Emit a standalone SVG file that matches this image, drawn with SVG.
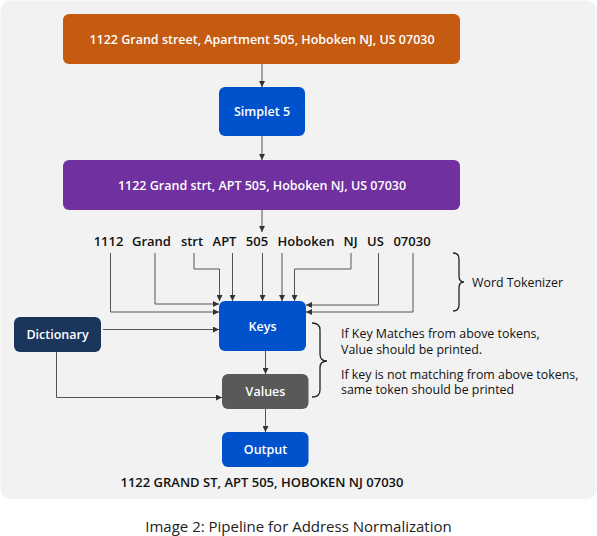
<svg xmlns="http://www.w3.org/2000/svg" width="597" height="536" viewBox="0 0 597 536">
<defs>
<marker id="ah" viewBox="0 0 6 6" refX="6" refY="3" markerWidth="6" markerHeight="6" markerUnits="userSpaceOnUse" orient="auto">
<path d="M0,0 L6,3 L0,6 z" fill="#333"/>
</marker>
<style>
.box text, .lbl { font-family: "Open Sans", "Liberation Sans", sans-serif; }
.box text { fill: #ffffff; font-size: 12.5px; font-weight: 600; text-anchor: middle; dominant-baseline: central; }
.conn path { fill: none; stroke: #555; stroke-width: 1; marker-end: url(#ah); }
.brace { fill: none; stroke: #222; stroke-width: 1.3; }
.tok { font-size: 13px; font-weight: 600; fill: #111; text-anchor: middle; }
.note { font-size: 12.4px; fill: #111; }
</style>
</defs>
<rect x="0" y="0" width="597" height="536" fill="#ffffff"/>
<rect x="0.5" y="0.5" width="596" height="498.5" rx="10" fill="#f2f2f2"/>

<g class="conn">
<path d="M262,64 V87"/>
<path d="M262,136 V160"/>
<path d="M262,210 V232"/>
<path d="M110.5,253 V312 H219"/>
<path d="M155,253 V304 H219"/>
<path d="M194,253 V269 H219.5 V301"/>
<path d="M232.5,253 V301"/>
<path d="M262.5,253 V301"/>
<path d="M282,253 V301"/>
<path d="M351,253 V269 H294.5 V301"/>
<path d="M378.5,253 V305 H306"/>
<path d="M413,253 V312 H306"/>
<path d="M103,329.5 H219"/>
<path d="M56.5,352 V397.5 H222"/>
<path d="M265.5,351 V374"/>
<path d="M265.5,409 V432"/>
</g>

<g id="input" class="box">
<rect x="63" y="14" width="397" height="50" rx="6" fill="#c55a11"/>
<text x="262" y="39.5">1122 Grand street, Apartment 505, Hoboken NJ, US 07030</text>
</g>
<g id="simplet" class="box">
<rect x="219" y="87" width="86" height="49" rx="6" fill="#0052cc"/>
<text x="262" y="111.5">Simplet 5</text>
</g>
<g id="abbrev" class="box">
<rect x="63" y="160" width="397" height="50" rx="6" fill="#7030a0"/>
<text x="262" y="185">1122 Grand strt, APT 505, Hoboken NJ, US 07030</text>
</g>
<g id="tokens" class="lbl">
<text class="tok" x="108.5" y="246">1112</text>
<text class="tok" x="151.5" y="246">Grand</text>
<text class="tok" x="192" y="246">strt</text>
<text class="tok" x="224.5" y="246">APT</text>
<text class="tok" x="257" y="246">505</text>
<text class="tok" x="306" y="246">Hoboken</text>
<text class="tok" x="350.5" y="246">NJ</text>
<text class="tok" x="375.5" y="246">US</text>
<text class="tok" x="412" y="246">07030</text>
</g>
<g id="keys" class="box">
<rect x="219" y="301" width="87" height="50" rx="6" fill="#0052cc"/>
<text x="262.5" y="326">Keys</text>
</g>
<g id="dictionary" class="box">
<rect x="14" y="317" width="87" height="35" rx="6" fill="#1b365d"/>
<text x="57.5" y="334.5">Dictionary</text>
</g>
<g id="values" class="box">
<rect x="222" y="374" width="86.5" height="35" rx="6" fill="#595959"/>
<text x="265.5" y="391.5">Values</text>
</g>
<g id="output" class="box">
<rect x="222" y="432" width="86.5" height="35" rx="6" fill="#0052cc"/>
<text x="265.5" y="449.5">Output</text>
</g>
<text class="lbl tok" x="262" y="487" font-size="12.8">1122 GRAND ST, APT 505, HOBOKEN NJ 07030</text>

<g id="tokenizer-note">
<path class="brace" d="M453,253 Q459,253 459,259 V276 Q459,282 464,282 Q459,282 459,288 V305 Q459,311 453,311"/>
<text class="lbl note" x="472" y="286.5" font-size="13">Word Tokenizer</text>
</g>
<g id="rule-note">
<path class="brace" d="M312,323 Q320,323 320,330 V354 Q320,361 327,361 Q320,361 320,368 V390 Q320,397 312,397"/>
<text class="lbl note" x="341" y="338">If Key Matches from above tokens,</text>
<text class="lbl note" x="341" y="353.5">Value should be printed.</text>
<text class="lbl note" x="341" y="378.5">If key is not matching from above tokens,</text>
<text class="lbl note" x="341" y="394">same token should be printed</text>
</g>
<text class="lbl" x="298.5" y="531.5" font-size="15" fill="#222" text-anchor="middle">Image 2: Pipeline for Address Normalization</text>
</svg>
